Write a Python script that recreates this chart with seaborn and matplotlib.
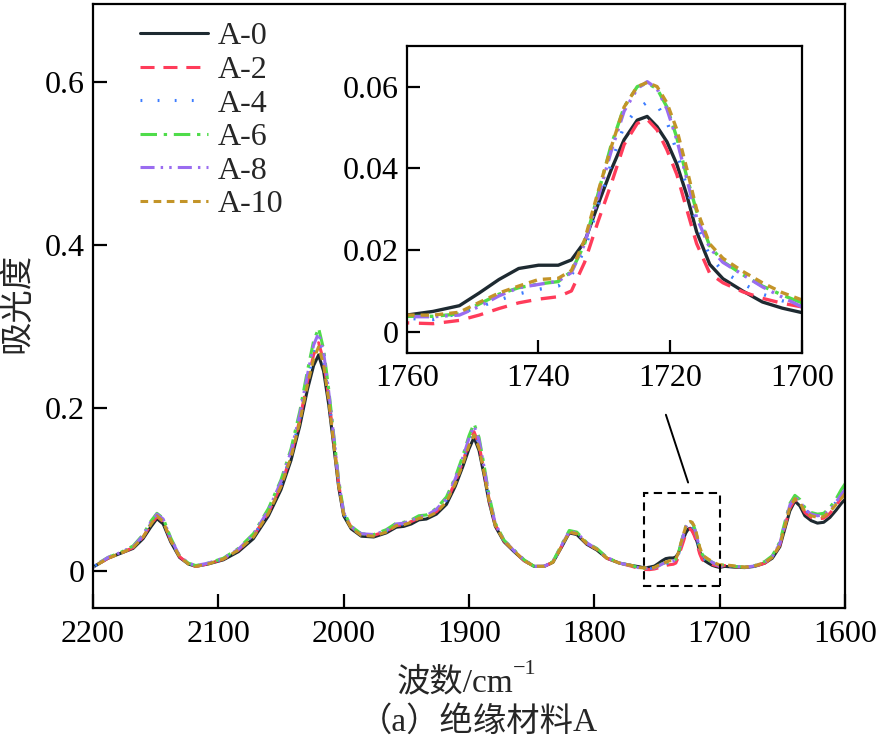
import matplotlib
matplotlib.use("Agg")
import matplotlib.pyplot as plt
from matplotlib.patches import Rectangle
import numpy as np
import pandas as pd
import seaborn as sns

# ---------------- data ----------------
series_names = ["A-0", "A-2", "A-4", "A-6", "A-8", "A-10"]

main_wavenumber = [2200, 2188, 2178, 2168, 2160, 2154, 2149, 2144, 2138, 2131,
                   2124, 2118, 2108, 2096, 2084, 2072, 2060, 2050, 2042, 2035,
                   2029, 2024, 2020, 2016, 2012, 2008, 2004, 2000, 1994, 1986,
                   1976, 1966, 1958, 1952, 1946, 1940, 1934, 1926, 1918, 1911,
                   1905, 1900, 1896, 1892, 1888, 1884, 1879, 1872, 1864, 1856,
                   1848, 1840, 1833, 1826, 1820, 1814, 1806, 1798, 1790, 1780,
                   1770, 1764,
                   1696, 1688, 1680, 1672, 1664, 1658, 1652, 1648, 1644, 1640,
                   1636, 1632, 1627, 1622, 1617, 1612, 1607, 1603, 1600]

main_A0 = [.005, .016, .022, .028, .040, .054, .0645, .058, .036, .017,
           .009, .006, .009, .014, .024, .040, .068, .100, .136, .178,
           .222, .252, .265, .245, .205, .155, .103, .068, .052, .043,
           .042, .047, .054, .055, .058, .063, .064, .070, .082, .104,
           .128, .150, .164, .148, .118, .085, .055, .036, .024, .013,
           .006, .006, .011, .030, .047, .045, .033, .026, .016, .010,
           .007, .0055,
           .006, .005, .0045, .006, .010, .016, .030, .052, .074, .086,
           .080, .068, .062, .059, .060, .066, .075, .083, .088]
main_A2 = [.005, .016, .022, .029, .042, .057, .067, .061, .038, .018,
           .009, .006, .009, .015, .026, .043, .072, .105, .142, .186,
           .232, .265, .280, .258, .214, .161, .107, .071, .054, .045,
           .044, .049, .056, .057, .061, .065, .067, .073, .086, .109,
           .134, .157, .171, .155, .123, .088, .057, .037, .025, .013,
           .006, .006, .011, .031, .048, .046, .034, .027, .016, .010,
           .006, .003,
           .007, .0055, .005, .006, .010, .017, .032, .055, .077, .088,
           .083, .072, .066, .064, .065, .071, .081, .090, .097]
main_A4 = [.005, .017, .023, .030, .043, .058, .068, .062, .039, .018,
           .009, .006, .009, .015, .026, .043, .073, .106, .143, .187,
           .234, .267, .282, .259, .215, .162, .108, .071, .054, .045,
           .044, .049, .057, .058, .061, .066, .067, .074, .087, .110,
           .135, .158, .172, .156, .124, .089, .057, .037, .025, .013,
           .006, .006, .011, .031, .048, .046, .034, .027, .016, .010,
           .007, .004,
           .0075, .006, .005, .0065, .011, .018, .034, .057, .079, .090,
           .085, .075, .070, .068, .069, .075, .085, .095, .102]
main_A6 = [.006, .017, .023, .031, .045, .061, .071, .065, .041, .019,
           .010, .007, .010, .016, .028, .046, .077, .112, .150, .196,
           .245, .282, .298, .272, .224, .168, .112, .073, .055, .046,
           .045, .051, .059, .060, .063, .068, .069, .077, .091, .115,
           .141, .166, .181, .164, .130, .093, .059, .038, .026, .014,
           .006, .006, .012, .033, .050, .048, .035, .028, .017, .010,
           .007, .004,
           .008, .006, .005, .007, .012, .019, .036, .060, .083, .093,
           .088, .078, .072, .070, .071, .078, .089, .100, .107]
main_A8 = [.005, .017, .023, .030, .044, .060, .070, .064, .040, .019,
           .010, .007, .010, .016, .027, .045, .075, .110, .147, .192,
           .240, .277, .292, .268, .221, .166, .110, .072, .055, .046,
           .045, .050, .058, .059, .062, .067, .068, .076, .089, .113,
           .139, .163, .178, .161, .128, .091, .058, .038, .025, .014,
           .006, .006, .012, .032, .049, .047, .035, .027, .017, .010,
           .007, .004,
           .007, .006, .005, .0065, .011, .018, .034, .058, .081, .091,
           .086, .076, .070, .068, .069, .075, .085, .094, .100]
main_A10 = [.005, .016, .022, .029, .042, .057, .068, .061, .038, .018,
            .009, .006, .009, .015, .026, .042, .071, .104, .140, .183,
            .228, .260, .275, .253, .210, .158, .105, .070, .053, .044,
            .043, .048, .056, .057, .060, .065, .066, .072, .085, .107,
            .131, .154, .167, .151, .121, .087, .056, .037, .025, .013,
            .006, .006, .011, .031, .048, .046, .034, .027, .016, .010,
            .007, .0045,
            .008, .0065, .005, .0065, .011, .017, .032, .055, .078, .089,
            .084, .073, .068, .066, .067, .073, .082, .089, .095]

inset_wavenumber = [1760, 1756, 1752, 1749, 1746, 1743, 1740, 1737, 1735, 1733,
                    1731, 1729, 1727, 1725, 1723.5, 1722, 1720.5, 1719, 1717.5,
                    1716, 1714, 1712, 1709, 1706, 1703, 1700]
inset_A0 = [.0041, .0050, .0064, .0095, .0128, .0155, .0163, .0163, .0176, .0220,
            .0310, .0395, .0470, .0518, .0527, .0502, .0465, .0410, .0335,
            .0245, .0165, .0130, .0100, .0073, .0058, .0047]
inset_A2 = [.0022, .0020, .0028, .0041, .0057, .0071, .0080, .0086, .0100, .0170,
            .0268, .0360, .0458, .0510, .0520, .0494, .0445, .0385, .0300,
            .0216, .0143, .0120, .0098, .0082, .0070, .0061]
inset_A4 = [.0033, .0030, .0045, .0061, .0078, .0093, .0104, .0112, .0138, .0200,
            .0305, .0410, .0505, .0545, .0562, .0555, .0515, .0440, .0355,
            .0265, .0185, .0148, .0118, .0092, .0076, .0065]
inset_A6 = [.0038, .0038, .0044, .0068, .0092, .0108, .0117, .0123, .0148, .0215,
            .0335, .0455, .0550, .0600, .0608, .0595, .0550, .0475, .0380,
            .0295, .0210, .0172, .0140, .0112, .0090, .0071]
inset_A8 = [.0037, .0037, .0041, .0062, .0088, .0108, .0116, .0124, .0145, .0215,
            .0325, .0440, .0540, .0595, .0612, .0595, .0545, .0470, .0375,
            .0280, .0205, .0170, .0140, .0110, .0085, .0061]
inset_A10 = [.0041, .0041, .0048, .0072, .0095, .0112, .0128, .0131, .0150, .0225,
             .0340, .0450, .0550, .0600, .0610, .0600, .0560, .0495, .0400,
             .0300, .0215, .0180, .0148, .0120, .0096, .0078]

main_xticks = [2200, 2100, 2000, 1900, 1800, 1700, 1600]
main_yticks = [0, 0.2, 0.4, 0.6]
main_yticklabels = ["0", "0.2", "0.4", "0.6"]
inset_xticks = [1760, 1740, 1720, 1700]
inset_yticks = [0, 0.02, 0.04, 0.06]
inset_yticklabels = ["0", "0.02", "0.04", "0.06"]

# ---------------- styling ----------------
colors = {"A-0": "#1e2a31", "A-2": "#ff3c5a", "A-4": "#3d7dff",
          "A-6": "#4fdc4a", "A-8": "#9a6cf0", "A-10": "#c39428"}
dashes = {"A-0": "", "A-2": (4.6, 2.9), "A-4": (0.6, 5.0),
          "A-6": (5.4, 2.2, 1.1, 2.2), "A-8": (4.6, 2.0, 0.8, 2.0, 0.8, 2.0),
          "A-10": (2.5, 1.8)}

sns.set_theme(style="ticks")
plt.rcParams["font.family"] = ["Liberation Serif", "Noto Sans CJK SC"]
plt.rcParams["axes.unicode_minus"] = False

FS = 23
CJK_FS = 24

main_vals = [main_A0, main_A2, main_A4, main_A6, main_A8, main_A10]
inset_vals = [inset_A0, inset_A2, inset_A4, inset_A6, inset_A8, inset_A10]

rows = []
for name, mv, iv in zip(series_names, main_vals, inset_vals):
    for w, a in zip(main_wavenumber, mv):
        rows.append((name, w, a))
    for w, a in zip(inset_wavenumber, iv):
        rows.append((name, w, a))
df_main = pd.DataFrame(rows, columns=["sample", "wavenumber", "absorbance"])

rows = []
for name, iv in zip(series_names, inset_vals):
    for w, a in zip(inset_wavenumber, iv):
        rows.append((name, w, a))
df_inset = pd.DataFrame(rows, columns=["sample", "wavenumber", "absorbance"])

W, H = 879, 746
fig = plt.figure(figsize=(W / 100, H / 100), dpi=100)
fig.patch.set_facecolor("white")

ax = fig.add_axes([93 / W, 1 - 608 / H, (845 - 93) / W, (608 - 4) / H])
sns.lineplot(data=df_main, x="wavenumber", y="absorbance", hue="sample",
             style="sample", palette=colors, dashes=dashes,
             hue_order=series_names, style_order=series_names,
             estimator=None, linewidth=2.2, ax=ax)

ax.set_xlim(2200, 1600)
ax.set_ylim(-0.045, 0.695)
ax.set_xticks(main_xticks)
ax.set_xticklabels([str(t) for t in main_xticks])
ax.set_yticks(main_yticks)
ax.set_yticklabels(main_yticklabels)
ax.set_xlabel("")
ax.set_ylabel("")
ax.grid(False)
ax.set_facecolor("white")
for s in ax.spines.values():
    s.set_linewidth(1.6)
    s.set_color("black")
ax.tick_params(direction="in", length=10, width=1.6, labelsize=FS,
               top=False, right=False, pad=6, colors="black")
ax.tick_params(axis="x", pad=9)

leg = ax.legend(loc="upper left", bbox_to_anchor=(0.062, 0.97), frameon=False,
                fontsize=FS, handlelength=2.15, handletextpad=0.3,
                labelspacing=0.13, borderpad=0, borderaxespad=0)
for line in leg.get_lines():
    line.set_linewidth(2.2)

# zoom box and connector
ax.add_patch(Rectangle((1700, -0.018), 60, 0.114, fill=False, lw=1.5,
                       ls=(0, (4, 2.6)), edgecolor="black", zorder=5))
ax.annotate("", xy=(1724.5, 0.1055), xytext=(1743.6, 0.195),
            arrowprops=dict(arrowstyle="-", lw=1.4, color="black"))

# inset
axi = fig.add_axes([406.7 / W, 1 - 352.7 / H, (802 - 406.7) / W, (352.7 - 45.7) / H])
sns.lineplot(data=df_inset, x="wavenumber", y="absorbance", hue="sample",
             style="sample", palette=colors, dashes=dashes,
             hue_order=series_names, style_order=series_names,
             estimator=None, linewidth=2.4, ax=axi, legend=False)
axi.set_xlim(1760, 1700)
axi.set_ylim(-0.0051, 0.070)
axi.set_xticks(inset_xticks)
axi.set_xticklabels([str(t) for t in inset_xticks])
axi.set_yticks(inset_yticks)
axi.set_yticklabels(inset_yticklabels)
axi.set_xlabel("")
axi.set_ylabel("")
axi.grid(False)
axi.set_facecolor("white")
for s in axi.spines.values():
    s.set_linewidth(1.6)
    s.set_color("black")
axi.tick_params(direction="in", length=9.5, width=1.6, labelsize=FS,
                top=False, right=False, pad=6, colors="black")
axi.tick_params(axis="x", pad=8)

# labels
fig.text(18 / W, 1 - 303 / H, "吸光度", rotation=90, ha="center", va="center",
         fontsize=CJK_FS)
t1 = fig.text(455 / W, 1 - 683 / H, "波数/cm", ha="center", va="center",
              fontsize=CJK_FS)
ax.annotate("−1", xy=(1.0, 0.95), xycoords=t1, ha="left", va="center",
            fontsize=16, annotation_clip=False)
fig.text(478 / W, 1 - 722 / H, "（a）绝缘材料A", ha="center", va="center",
         fontsize=CJK_FS)

fig.savefig("out.png", dpi=100, facecolor="white")
